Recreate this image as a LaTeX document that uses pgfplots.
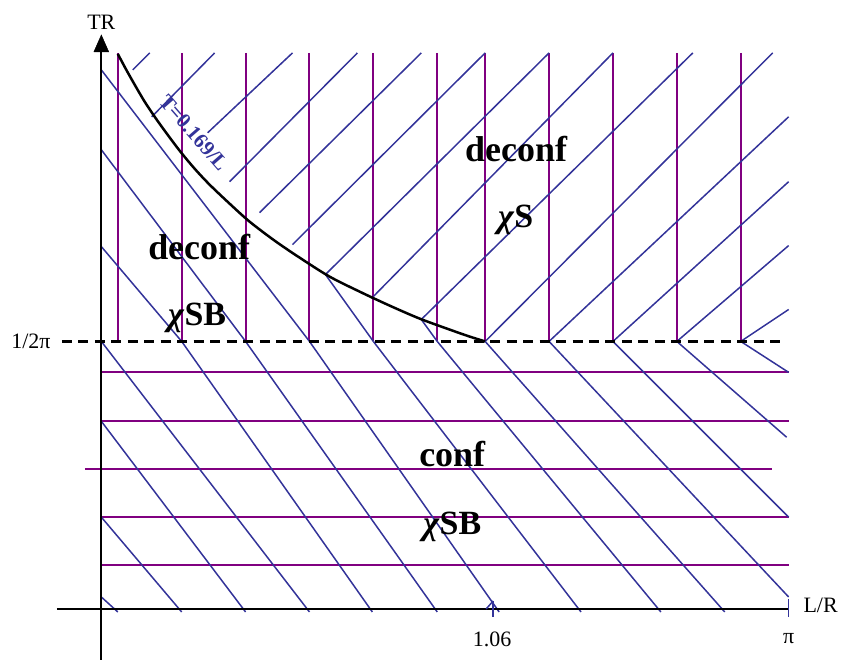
\documentclass[border=0pt]{standalone}
\usepackage{fontspec}
\setmainfont{Liberation Serif}
\usepackage{pgfplots}
\pgfplotsset{compat=1.18}
\definecolor{pur}{RGB}{128,0,128}
\definecolor{blu}{RGB}{51,51,153}
\begin{document}
\begin{tikzpicture}
\begin{axis}[x=1pt,y=1pt,xmin=0,xmax=841,ymin=0,ymax=661,y dir=reverse,
  hide axis,clip=false,
  pv/.style={pur,line width=2pt,forget plot},
  bl/.style={blu,line width=1.5pt,forget plot}]
\addplot[draw=none,forget plot] coordinates {(0,0) (841,0) (841,661) (0,661)};
% vertical purple lines (deconfined)
\addplot[pv] coordinates {(118,53) (118,342)};
\addplot[pv] coordinates {(182,53) (182,342)};
\addplot[pv] coordinates {(246,53) (246,342)};
\addplot[pv] coordinates {(310,53) (310,342)};
\addplot[pv] coordinates {(374,53) (374,342)};
\addplot[pv] coordinates {(438,53) (438,342)};
\addplot[pv] coordinates {(486,53) (486,342)};
\addplot[pv] coordinates {(550,53) (550,342)};
\addplot[pv] coordinates {(614,53) (614,342)};
\addplot[pv] coordinates {(678,53) (678,342)};
\addplot[pv] coordinates {(742,53) (742,342)};
% horizontal purple lines (confined)
\addplot[pv] coordinates {(101.5,373) (790,373)};
\addplot[pv] coordinates {(101.5,422) (790,422)};
\addplot[pv] coordinates {(85,470) (773,470)};
\addplot[pv] coordinates {(101.5,518) (790,518)};
\addplot[pv] coordinates {(101.5,566) (790,566)};
% down-right blue lines (chiral symmetry broken), upper part
\addplot[bl] coordinates {(101.5,70) (310,342)};
\addplot[bl] coordinates {(101.5,150) (246,342)};
\addplot[bl] coordinates {(101.5,247) (182,342)};
\addplot[bl] coordinates {(326,275) (374,342)};
\addplot[bl] coordinates {(422,320) (438,342)};
% down-right blue lines, lower part
\addplot[bl] coordinates {(101.5,342) (310,613)};
\addplot[bl] coordinates {(182,342) (373,613)};
\addplot[bl] coordinates {(246,342) (438,613)};
\addplot[bl] coordinates {(310,342) (500,613)};
\addplot[bl] coordinates {(374,342) (582,613)};
\addplot[bl] coordinates {(438,342) (662,613)};
\addplot[bl] coordinates {(486,342) (726,613)};
\addplot[bl] coordinates {(550,342) (790,598)};
\addplot[bl] coordinates {(614,342) (790,518)};
\addplot[bl] coordinates {(678,342) (788,438)};
\addplot[bl] coordinates {(742,342) (790,373)};
\addplot[bl] coordinates {(101.5,422) (246,613)};
\addplot[bl] coordinates {(101.5,518) (182,613)};
\addplot[bl] coordinates {(101.5,598) (118,613)};
% up-right blue lines (chiral symmetric)
\addplot[bl] coordinates {(133,70) (150,53)};
\addplot[bl] coordinates {(152,117) (215,53)};
\addplot[bl] coordinates {(208,133) (293,53)};
\addplot[bl] coordinates {(230,182) (358,53)};
\addplot[bl] coordinates {(260,213) (422,53)};
\addplot[bl] coordinates {(293,245) (486,53)};
\addplot[bl] coordinates {(326,275) (550,53)};
\addplot[bl] coordinates {(374,297) (614,53)};
\addplot[bl] coordinates {(422,320) (694,53)};
\addplot[bl] coordinates {(486,342) (774,53)};
\addplot[bl] coordinates {(550,342) (790,117)};
\addplot[bl] coordinates {(614,342) (790,182)};
\addplot[bl] coordinates {(678,342) (790,246)};
\addplot[bl] coordinates {(742,342) (790,310)};
% dashed line T=1/(2 pi R)
\addplot[black,line width=3pt,dash pattern=on 10pt off 6.5pt,forget plot] coordinates {(62,342) (782,342)};
% axes
\addplot[black,line width=2pt,forget plot] coordinates {(57,610) (790,610)};
\addplot[black,line width=2pt,forget plot] coordinates {(101.5,661) (101.5,48)};
\addplot[black,fill=black,forget plot] coordinates {(94,52) (101.5,35) (109,52) (94,52)};
% ticks
\addplot[bl] coordinates {(790,600) (790,618)};
\addplot[bl] coordinates {(494,602) (494,618)};
\addplot[bl] coordinates {(487,610) (494,602)};
% transition curve T=0.169/L
\addplot[black,line width=2.5pt,smooth,forget plot] coordinates {
(118,54) (126,69) (135,85) (145,102) (155,117) (165,131) (180,151) (195,169)
(210,185) (230,204) (250,222) (275,241) (300,258) (330,277) (360,292)
(390,306) (420,319) (450,330) (470,337) (486,342)};
% labels
\node[font=\fontsize{22}{26}\selectfont] at (axis cs:101.5,22.5) {TR};
\node[font=\fontsize{22}{26}\selectfont] at (axis cs:822,606) {L/R};
\node[font=\fontsize{22}{26}\selectfont] at (axis cs:790,640) {π};
\node[font=\fontsize{22}{26}\selectfont] at (axis cs:493,640) {1.06};
\node[font=\fontsize{22}{26}\selectfont] at (axis cs:31,342) {1/2π};
\node[font=\fontsize{21}{24}\selectfont\bfseries,text=blu,rotate=-49] at (axis cs:194,133) {T=0.169/L};
\node[font=\fontsize{36}{40}\selectfont\bfseries,anchor=base] at (axis cs:199.5,260) {deconf};
\node[font=\fontsize{34}{38}\selectfont\bfseries,anchor=base] at (axis cs:197.5,326) {\textit{χ}SB};
\node[font=\fontsize{36}{40}\selectfont\bfseries,anchor=base] at (axis cs:517,162) {deconf};
\node[font=\fontsize{34}{38}\selectfont\bfseries,anchor=base] at (axis cs:516.5,228) {\textit{χ}S};
\node[font=\fontsize{36}{40}\selectfont\bfseries,anchor=base] at (axis cs:453,467) {conf};
\node[font=\fontsize{34}{38}\selectfont\bfseries,anchor=base] at (axis cs:453,535) {\textit{χ}SB};
\end{axis}
\end{tikzpicture}
\end{document}
